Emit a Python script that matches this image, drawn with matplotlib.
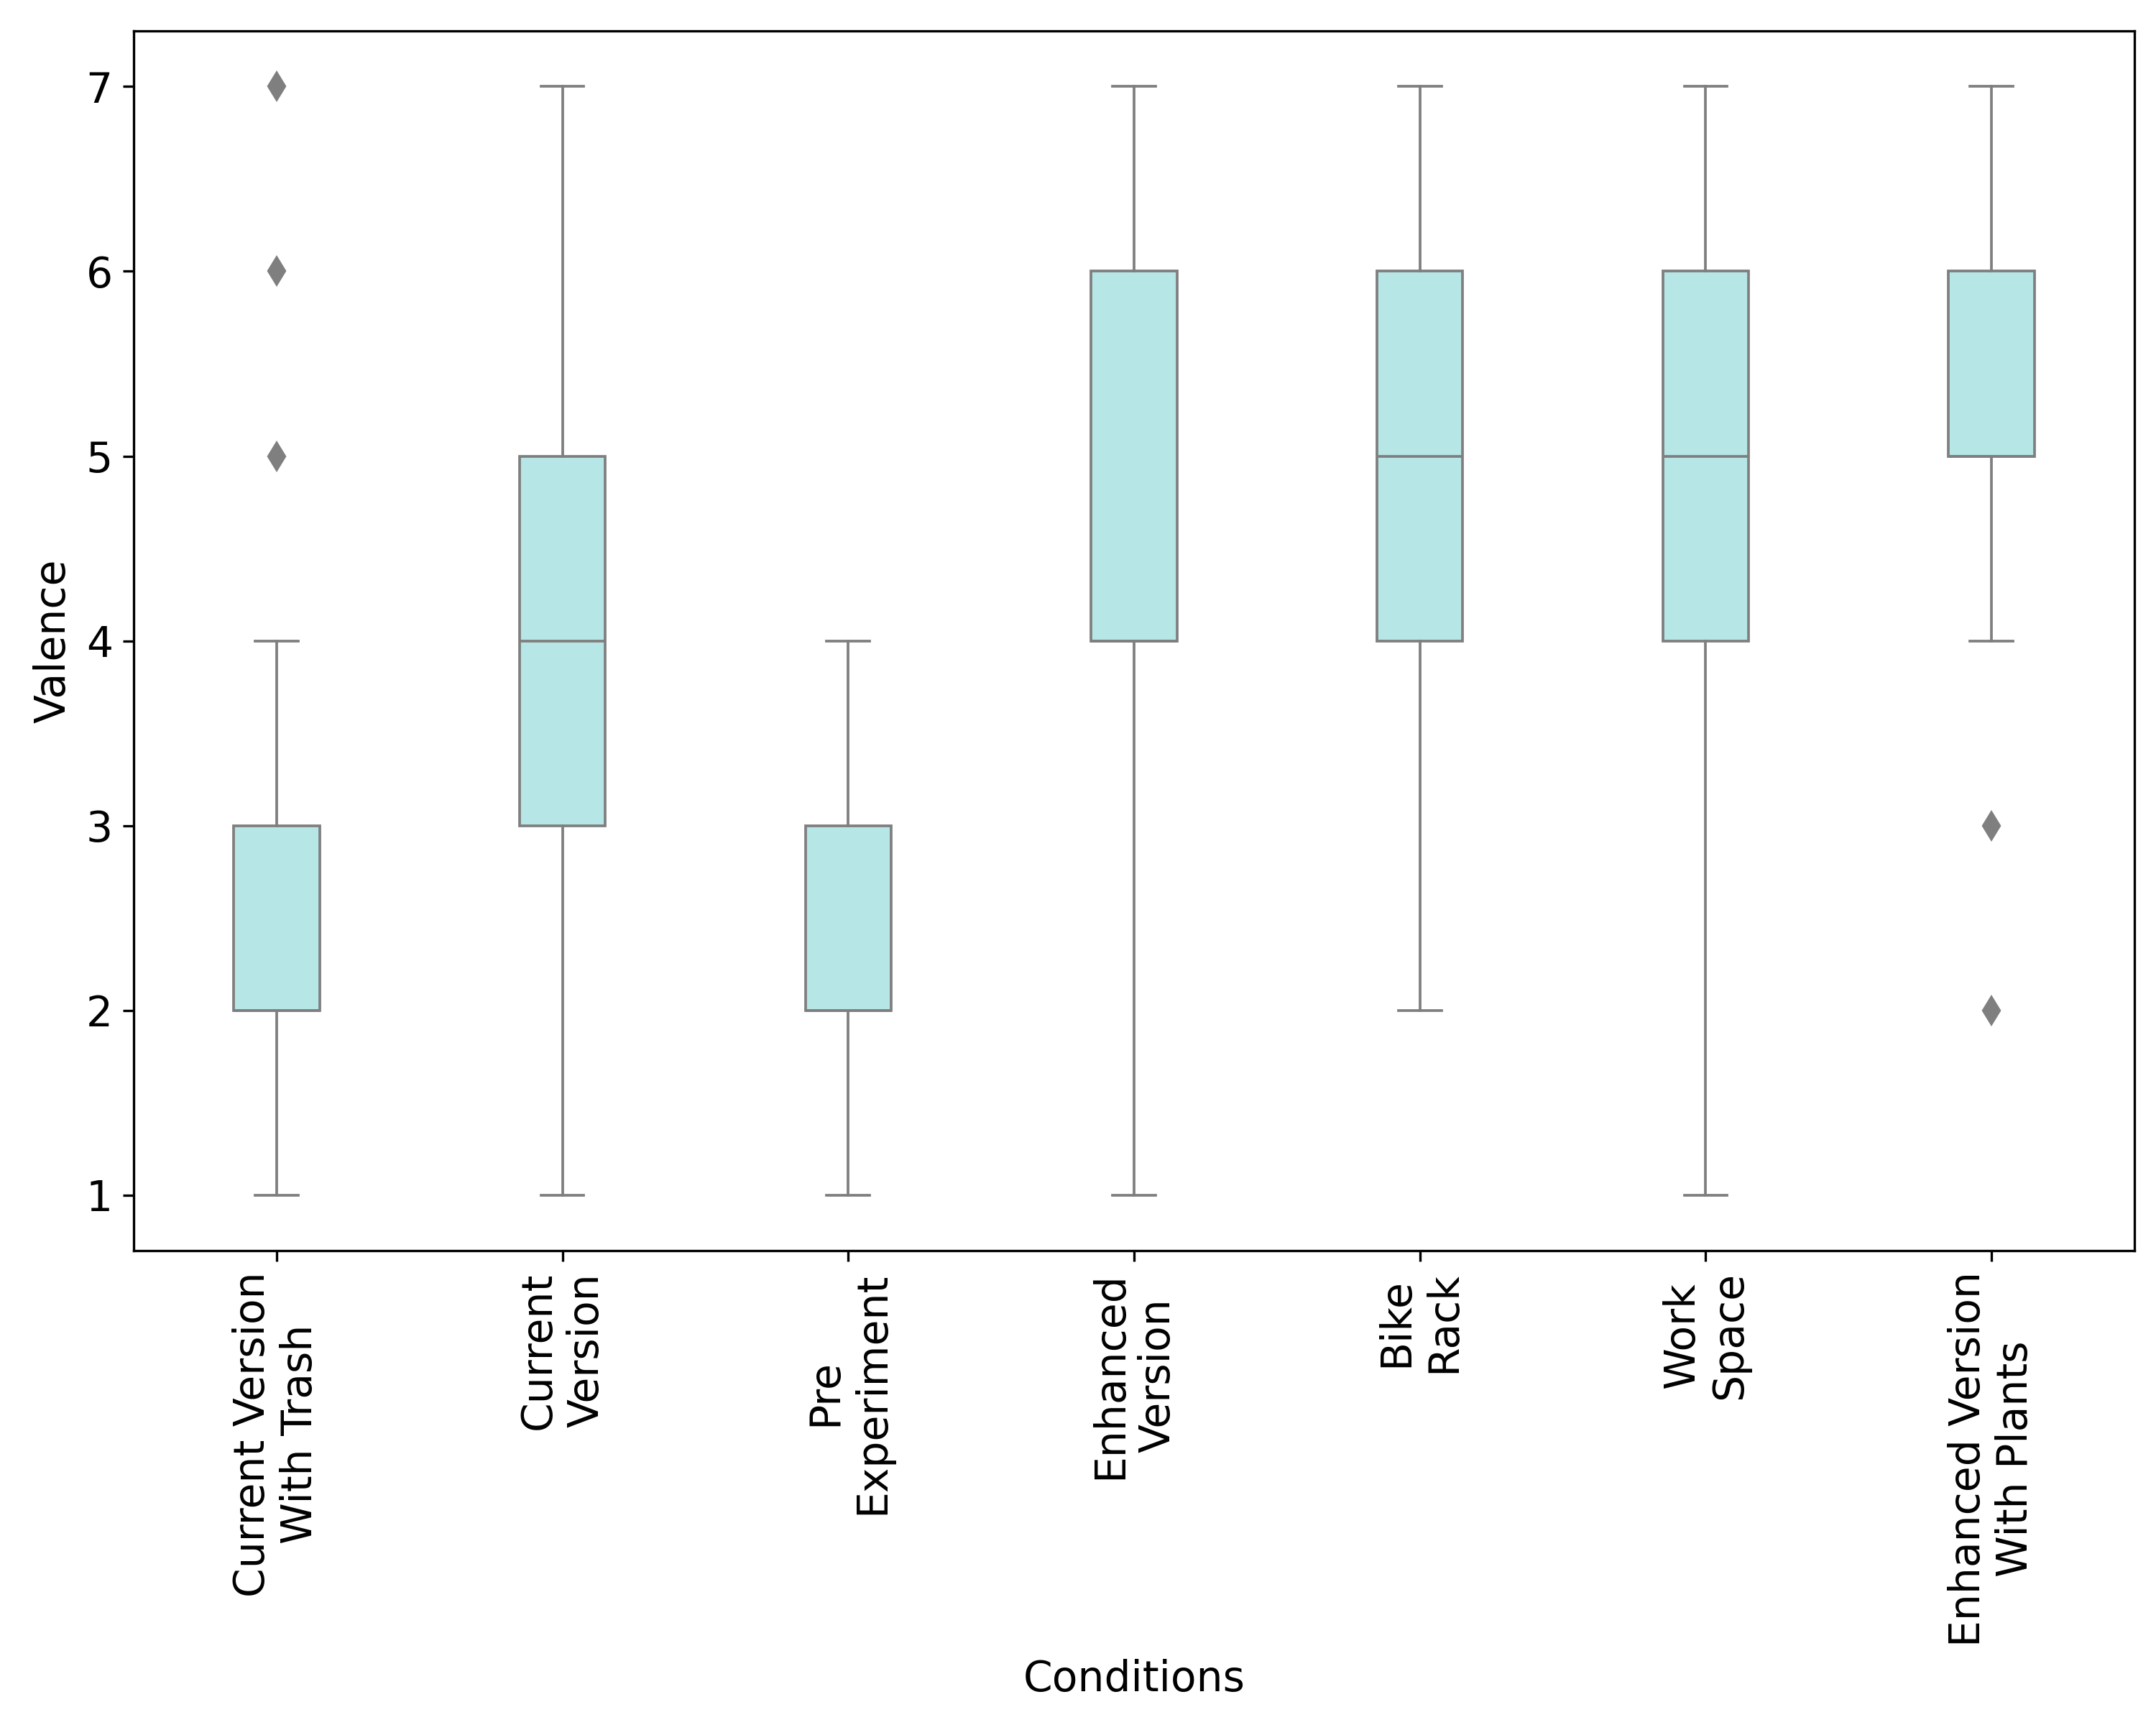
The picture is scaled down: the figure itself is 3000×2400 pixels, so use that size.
import matplotlib
matplotlib.use("Agg")
import matplotlib.pyplot as plt

categories = ["Current Version\nWith Trash", "Current\nVersion", "Pre\nExperiment",
              "Enhanced\nVersion", "Bike\nRack", "Work\nSpace",
              "Enhanced Version\nWith Plants"]
q1 = [2, 3, 2, 4, 4, 4, 5]
med = [2, 4, 2, 4, 5, 5, 5]
q3 = [3, 5, 3, 6, 6, 6, 6]
whislo = [1, 1, 1, 1, 2, 1, 4]
whishi = [4, 7, 4, 7, 7, 7, 7]
fliers = [[5, 6, 7], [], [], [], [], [], [2, 3]]

box_color = "#b7e6e6"
line_color = "#7f7f7f"

plt.rcParams["font.family"] = "DejaVu Sans"
fig, ax = plt.subplots(figsize=(10, 8), dpi=300)

stats = []
for i in range(len(categories)):
    stats.append(dict(q1=q1[i], med=med[i], q3=q3[i], whislo=whislo[i],
                      whishi=whishi[i], fliers=fliers[i], label=categories[i]))

lw = 0.9
ax.bxp(stats, positions=range(len(categories)), widths=0.3, patch_artist=True,
       boxprops=dict(facecolor=box_color, edgecolor=line_color, linewidth=lw),
       medianprops=dict(color=line_color, linewidth=lw),
       whiskerprops=dict(color=line_color, linewidth=lw),
       capprops=dict(color=line_color, linewidth=lw),
       flierprops=dict(marker="d", markerfacecolor=line_color, markeredgecolor=line_color,
                       markersize=6, linestyle="none"))

ax.set_xlim(-0.5, len(categories) - 0.5)
ax.set_ylim(0.7, 7.3)
ax.set_yticks([1, 2, 3, 4, 5, 6, 7])
ax.set_xticks(range(len(categories)))
ax.set_xticklabels(categories, rotation=90, fontsize=14)
ax.tick_params(axis="y", labelsize=14)
ax.set_xlabel("Conditions", fontsize=14)
ax.set_ylabel("Valence", fontsize=14)

fig.subplots_adjust(left=0.062, right=0.990, top=0.982, bottom=0.275)
fig.savefig("out.png", dpi=300)
